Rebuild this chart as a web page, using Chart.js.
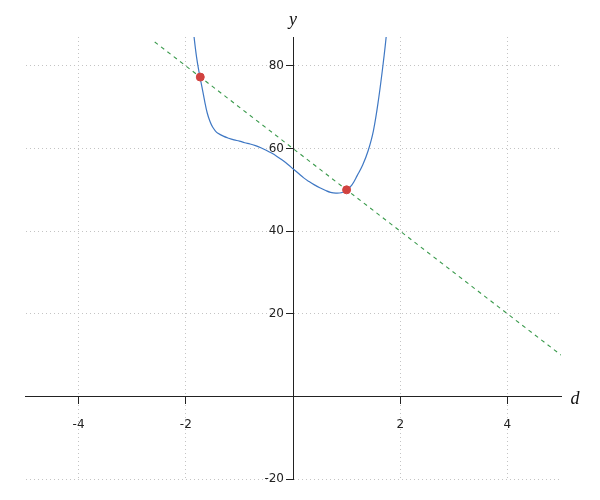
<!DOCTYPE html>
<html>
<head>
<meta charset="utf-8">
<script src="https://cdn.jsdelivr.net/npm/chart.js@4"></script>
<style>
  html, body { margin: 0; padding: 0; background: #fff; }
  canvas { display: block; }
</style>
</head>
<body>
<canvas id="chart" width="600" height="500"></canvas>
<script>
// curve samples
const curveX = [-1.9, -1.85, -1.8, -1.75, -1.7, -1.65, -1.6, -1.55, -1.5, -1.45, -1.4, -1.3, -1.2, -1.1, -1.0, -0.9, -0.8, -0.7, -0.6, -0.5, -0.4, -0.3, -0.2, -0.1, 0, 0.1, 0.2, 0.3, 0.4, 0.5, 0.6, 0.7, 0.8, 0.9, 1.0, 1.1, 1.2, 1.3, 1.4, 1.5, 1.6, 1.7, 1.75, 1.8];
const curveY = [94.0, 87.5, 82.2, 78.3, 75.0, 71.6, 68.6, 66.6, 65.2, 64.3, 63.7, 63.0, 62.5, 62.1, 61.8, 61.4, 61.1, 60.7, 60.2, 59.6, 58.9, 58.1, 57.2, 56.2, 55.1, 54.0, 52.9, 52.0, 51.2, 50.5, 49.9, 49.4, 49.2, 49.3, 49.9, 51.2, 53.5, 56.0, 59.4, 64.3, 72.3, 82.5, 88.5, 95.0];

// dashed secant line (end points)
const lineX = [-2.58, 5];
const lineY = [85.8, 10];

// marked points
const dotX = [-1.73, 1.0];
const dotY = [77.3, 50.0];

const xTicks = [-4, -2, 2, 4];
const yTicks = [-20, 20, 40, 60, 80];

const toXY = (xs, ys) => xs.map((x, i) => ({ x: x, y: ys[i] }));

// move the y axis onto x = 0 after layout (keep some width so labels aren't clipped)
const centerYAxis = {
    id: 'centerYAxis',
    afterLayout(chart) {
        const { x, y } = chart.scales;
        const px = x.getPixelForValue(0);
        y.left = px - 60;
        y.right = px;
        y.width = 60;
    }
};

const axisTitles = {
    id: 'axisTitles',
    afterDraw(chart) {
        const { ctx, scales } = chart;
        ctx.save();
        ctx.fillStyle = '#111';
        ctx.font = 'italic 18px "Liberation Serif", serif';
        ctx.textAlign = 'center';
        ctx.textBaseline = 'alphabetic';
        ctx.fillText('y', scales.x.getPixelForValue(0), 25);
        ctx.fillText('d', 575, scales.y.getPixelForValue(0) + 8);
        ctx.restore();
    }
};

new Chart(document.getElementById('chart'), {
    type: 'scatter',
    data: {
        datasets: [{
            data: toXY(dotX, dotY),
            backgroundColor: '#d1423f',
            borderColor: '#d1423f',
            pointRadius: 4,
            order: 0
        }, {
            type: 'line',
            data: toXY(curveX, curveY),
            borderColor: '#3f78c4',
            borderWidth: 1.2,
            pointRadius: 0,
            fill: false,
            tension: 0.4,
            order: 1
        }, {
            type: 'line',
            data: toXY(lineX, lineY),
            borderColor: '#3a9a4c',
            borderWidth: 1.1,
            borderDash: [4, 4],
            pointRadius: 0,
            fill: false,
            order: 2
        }]
    },
    options: {
        responsive: false,
        animation: false,
        layout: {
            padding: { left: 25, right: 39, top: 37, bottom: 21 }
        },
        scales: {
            x: {
                type: 'linear',
                min: -5,
                max: 5,
                position: { y: 0 },
                afterFit: (s) => { s.height = 0; },
                afterBuildTicks: (s) => { s.ticks = xTicks.map(v => ({ value: v })); },
                ticks: {
                    color: '#222',
                    padding: 14,
                    maxRotation: 0,
                    autoSkip: false,
                    font: { family: 'DejaVu Sans', size: 12 }
                },
                grid: {
                    color: '#c4c4c4',
                    tickColor: '#222',
                    tickLength: 7,
                    lineWidth: 1
                },
                border: { display: true, color: '#222', width: 1, dash: [1, 3] }
            },
            y: {
                type: 'linear',
                min: -20,
                max: 87,
                position: 'left',
                afterFit: (s) => { s.width = 0; },
                afterBuildTicks: (s) => { s.ticks = yTicks.map(v => ({ value: v })); },
                ticks: {
                    color: '#222',
                    padding: 2,
                    autoSkip: false,
                    font: { family: 'DejaVu Sans', size: 12 }
                },
                grid: {
                    color: '#c4c4c4',
                    tickColor: '#222',
                    tickLength: 7,
                    lineWidth: 1
                },
                border: { display: true, color: '#222', width: 1, dash: [1, 3] }
            }
        },
        plugins: {
            legend: { display: false },
            tooltip: { enabled: false }
        }
    },
    plugins: [centerYAxis, axisTitles]
});
</script>
</body>
</html>
